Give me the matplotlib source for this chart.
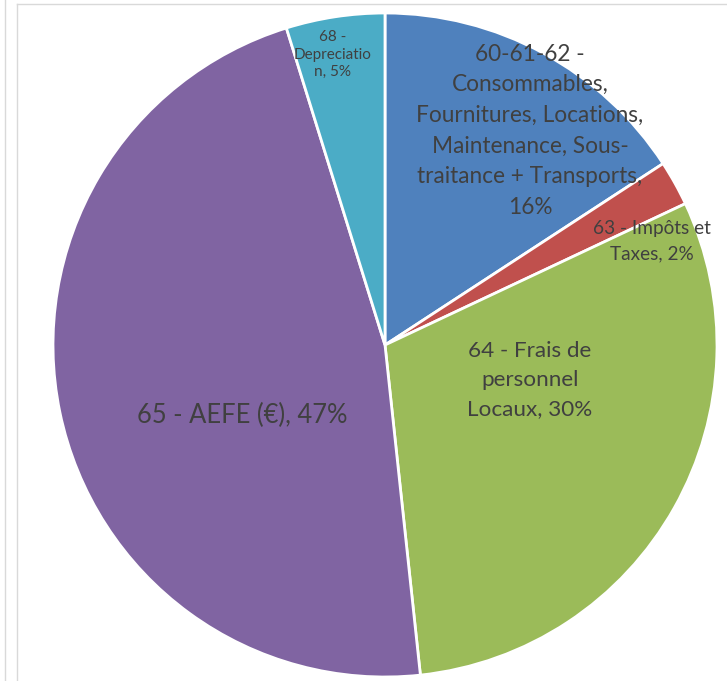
import matplotlib
matplotlib.use('Agg')
import matplotlib.pyplot as plt
from matplotlib.lines import Line2D

# data
labels = ['60-61-62 -\nConsommables,\nFournitures, Locations,\nMaintenance, Sous-\ntraitance + Transports,',
          '63 - Impôts et\nTaxes,',
          '64 - Frais de\npersonnel\nLocaux,',
          '65 - AEFE (€),',
          '68 -\nDepreciatio\nn,']
values = [15.8, 2.2, 30.3, 46.9, 4.8]
colors = ['#4F81BD', '#C0504D', '#9BBB59', '#8064A2', '#4BACC6']

# label placement (data units of the pie), font sizes, separators
label_xy = [(0.437, 0.645), (0.804, 0.313), (0.437, -0.105), (-0.431, -0.211), (-0.157, 0.875)]
label_size = [16.3, 13.7, 16.2, 18.4, 11]
label_spacing = [1.57, 1.56, 1.57, 1.2, 1.35]
label_sep = ['\n', ' ', ' ', ' ', ' ']

plt.rcParams['font.family'] = ['Lato', 'DejaVu Sans']

fig = plt.figure(figsize=(7.27, 6.81), dpi=100)
ax = fig.add_axes([(385 - 332) / 727, (681 - 345 - 332) / 681, 664 / 727, 664 / 681])

wedges, _ = ax.pie(values, colors=colors, startangle=90, counterclock=False,
                   wedgeprops=dict(edgecolor='white', linewidth=2))
ax.set_xlim(-1, 1)
ax.set_ylim(-1, 1)

for lab, v, xy, fs, ls, sep in zip(labels, values, label_xy, label_size, label_spacing, label_sep):
    ax.text(xy[0], xy[1], f'{lab}{sep}{v:.0f}%', ha='center', va='center',
            fontsize=fs, color='#404040', linespacing=ls, multialignment='center')

# chart area frame lines
gray = '#d9d9d9'
fig.add_artist(Line2D([4.5 / 727, 4.5 / 727], [0, 1], color=gray, lw=1))
fig.add_artist(Line2D([16.5 / 727, 16.5 / 727], [0, 1 - 3.5 / 681], color=gray, lw=1))
fig.add_artist(Line2D([16.5 / 727, 1], [1 - 3.5 / 681, 1 - 3.5 / 681], color=gray, lw=1))

fig.savefig('out.png', dpi=100)
